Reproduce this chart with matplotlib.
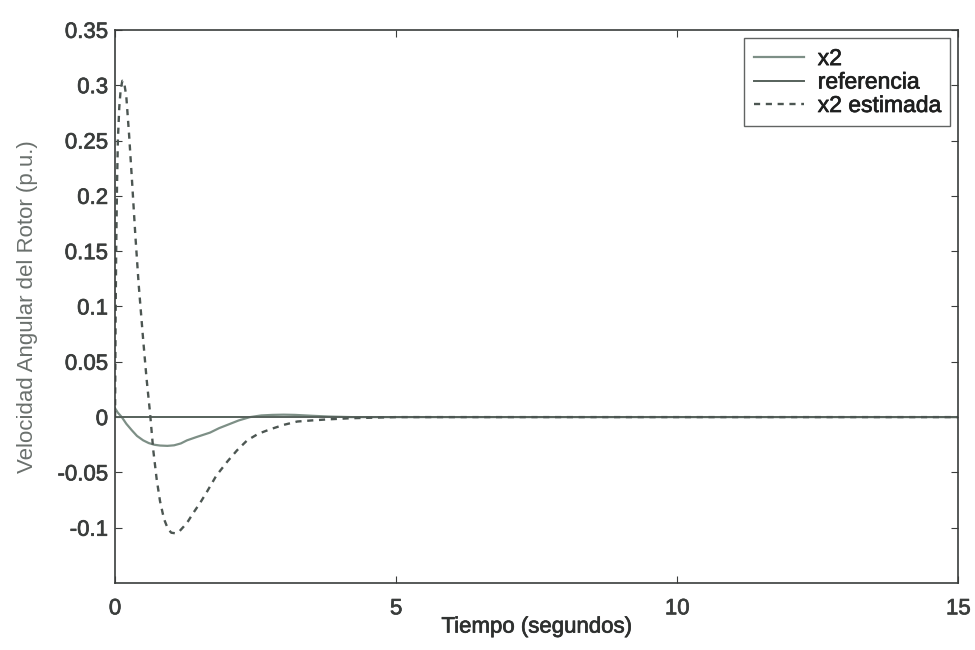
"""Velocidad angular del rotor: x2, referencia y x2 estimada."""
import numpy as np
import matplotlib
matplotlib.use('Agg')
import matplotlib.pyplot as plt
import matplotlib.patheffects as pe

plt.rcParams['font.family'] = ['Liberation Sans', 'DejaVu Sans']

# x2 estimada (dashed)
t_est = [0.0, 0.01, 0.02, 0.035, 0.05, 0.075, 0.1, 0.13, 0.16, 0.2, 0.25, 0.3, 0.36,
         0.42, 0.5, 0.56, 0.62, 0.68, 0.74, 0.8, 0.87, 0.94, 1.0, 1.07, 1.14, 1.22,
         1.3, 1.4, 1.52, 1.64, 1.8, 2.0, 2.17, 2.35, 2.55, 2.76, 3.0, 3.24, 3.5,
         3.8, 4.2, 5.0, 15.0]
x2_est = [0.0, 0.09, 0.15, 0.21, 0.25, 0.28, 0.296, 0.304, 0.303, 0.29, 0.255, 0.215, 0.165,
          0.12, 0.07, 0.035, 0.005, -0.03, -0.056, -0.076, -0.092, -0.101, -0.1045, -0.105,
          -0.1035, -0.099, -0.094, -0.086, -0.077, -0.067, -0.053, -0.04, -0.03, -0.021,
          -0.015, -0.011, -0.007, -0.004, -0.003, -0.002, -0.001, 0.0, 0.0]

# x2 (solid)
t_x2 = [0.0, 0.05, 0.12, 0.2, 0.3, 0.39, 0.5, 0.6, 0.7, 0.8, 0.93, 1.05, 1.17, 1.28,
        1.45, 1.6, 1.69, 1.85, 2.05, 2.2, 2.4, 2.6, 2.8, 3.0, 3.2, 3.5, 3.8, 4.2, 15.0]
x2 = [0.008, 0.004, 0.0, -0.006, -0.012, -0.017, -0.021, -0.0235, -0.025, -0.0257,
      -0.026, -0.0255, -0.0238, -0.021, -0.018, -0.0155, -0.014, -0.01, -0.006, -0.003,
      0.0, 0.0015, 0.002, 0.0022, 0.002, 0.0012, 0.0005, 0.0, 0.0]

# referencia
t_ref = [0.0, 15.0]
ref = [0.0, 0.0]

xticks = [0, 5, 10, 15]
yticks = [-0.1, -0.05, 0, 0.05, 0.1, 0.15, 0.2, 0.25, 0.3, 0.35]
yticklabels = ['-0.1', '-0.05', '0', '0.05', '0.1', '0.15', '0.2', '0.25', '0.3', '0.35']

fig = plt.figure(figsize=(9.75, 6.5), dpi=100)
ax = fig.add_axes([0.118, 0.103, 0.865, 0.851])

ax.plot(t_x2, x2, color='#7d8f86', lw=1.6, label='x2')
ax.plot(t_ref, ref, color='#56615b', lw=1.4, label='referencia')
ax.plot(t_est, x2_est, color='#4c5652', lw=1.7, ls=(0, (2.6, 2.4)), label='x2 estimada')

ax.set_xlim(0, 15)
ax.set_ylim(-0.15, 0.35)
ax.set_xticks(xticks)
ax.set_yticks(yticks)
ax.set_yticklabels(yticklabels)
ax.tick_params(direction='in', length=5, top=True, right=True, labelsize=16,
               colors='#3a3d3c', width=0.8, pad=5)
ax.tick_params(axis='x', pad=11)
for s in ax.spines.values():
    s.set_color('#3a3d3c')
    s.set_linewidth(1.2)

thick = [pe.withStroke(linewidth=0.5, foreground='#3a3d3c')]
for lab in ax.get_xticklabels() + ax.get_yticklabels():
    lab.set_path_effects(thick)

ax.set_xlabel('Tiempo (segundos)', fontsize=16, color='#2e302f', labelpad=-2,
              path_effects=[pe.withStroke(linewidth=0.5, foreground='#2e302f')])
ax.set_ylabel('Velocidad Angular del Rotor (p.u.)', fontsize=16, color='#6a706d', labelpad=14)

leg = ax.legend(loc='upper right', fontsize=16.5, frameon=True, fancybox=False,
                handlelength=2.2, borderpad=0.4, labelspacing=0.02, handletextpad=0.6,
                borderaxespad=0.35)
leg.get_frame().set_edgecolor('#3a3d3c')
leg.get_frame().set_linewidth(1.0)
for txt in leg.get_texts():
    txt.set_color('#1e1f1f')
    txt.set_path_effects([pe.withStroke(linewidth=0.5, foreground='#1e1f1f')])

fig.savefig('out.png', dpi=100)
